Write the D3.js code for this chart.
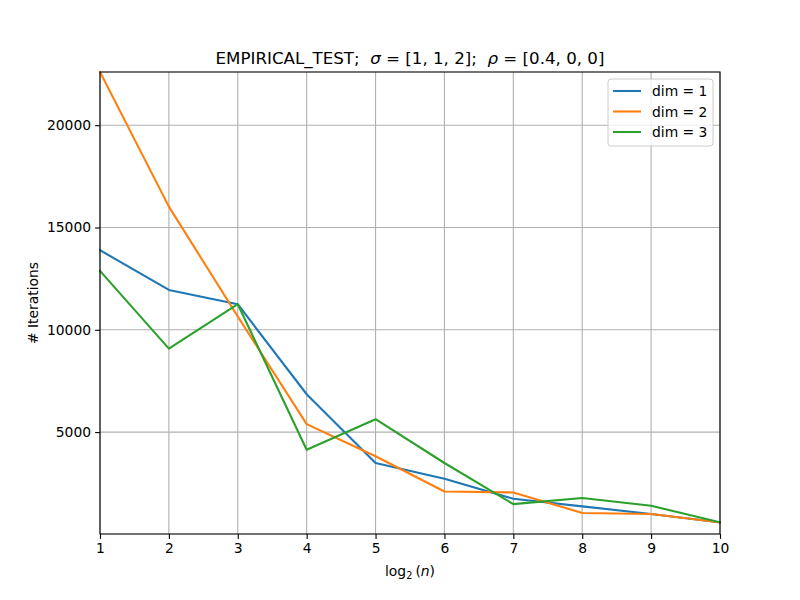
<!DOCTYPE html>
<html>
<head>
<meta charset="utf-8">
<script src="https://cdn.jsdelivr.net/npm/d3@7"></script>
<style>
  body { margin: 0; background: #fff; }
  svg text { font-family: "DejaVu Sans", sans-serif; fill: #000; }
</style>
</head>
<body>
<div id="chart"></div>
<script>
// data
var logN = [1, 2, 3, 4, 5, 6, 7, 8, 9, 10];
var dim1 = [13890, 11950, 11250, 6850, 3490, 2720, 1740, 1370, 1000, 590];
var dim2 = [22600, 16020, 10650, 5390, 3820, 2100, 2050, 1050, 1000, 590];
var dim3 = [12880, 9080, 11250, 4140, 5630, 3490, 1480, 1780, 1400, 590];
var seriesNames = ['dim = 1', 'dim = 2', 'dim = 3'];
var colors = ['#1f77b4', '#ff7f0e', '#2ca02c'];
var yTicks = [5000, 10000, 15000, 20000];

var width = 800, height = 600;
var margin = {top: 72, right: 80, bottom: 66, left: 100};
var plotW = width - margin.left - margin.right,
	plotH = height - margin.top - margin.bottom;
var fs = '13.89px';

var svg = d3.select('#chart').append('svg')
	.attr('width', width)
	.attr('height', height);

var x = d3.scaleLinear().domain([1, 10]).range([0, plotW]);
var y = d3.scaleLinear().domain([20, 22600]).range([plotH, 0]);

var g = svg.append('g')
	.attr('transform', 'translate(' + margin.left + ',' + margin.top + ')');

//grid lines
g.append('g').selectAll('line.vgrid')
	.data(logN)
	.enter().append('line')
	.attr('x1', function (d) { return x(d); })
	.attr('x2', function (d) { return x(d); })
	.attr('y1', 0).attr('y2', plotH)
	.attr('stroke', '#b0b0b0').attr('stroke-width', 1.1);

g.append('g').selectAll('line.hgrid')
	.data(yTicks)
	.enter().append('line')
	.attr('x1', 0).attr('x2', plotW)
	.attr('y1', function (d) { return y(d); })
	.attr('y2', function (d) { return y(d); })
	.attr('stroke', '#b0b0b0').attr('stroke-width', 1.1);

//lines
var line = d3.line()
	.x(function (d, i) { return x(logN[i]); })
	.y(function (d) { return y(d); });

svg.append('defs').append('clipPath').attr('id', 'clip')
	.append('rect').attr('x', -1).attr('y', -1).attr('width', plotW + 2).attr('height', plotH + 2);

[dim1, dim2, dim3].forEach(function (s, i) {
	g.append('path')
		.datum(s)
		.attr('clip-path', 'url(#clip)')
		.attr('fill', 'none')
		.attr('stroke', colors[i])
		.attr('stroke-width', 2.1)
		.attr('stroke-linejoin', 'round')
		.attr('stroke-linecap', 'square')
		.attr('d', line);
});

//axes
var xAxis = g.append('g')
	.attr('transform', 'translate(0,' + plotH + ')')
	.call(d3.axisBottom(x).tickValues(logN).tickSize(4.9).tickPadding(4).tickFormat(d3.format('d')));
var yAxis = g.append('g')
	.call(d3.axisLeft(y).tickValues(yTicks).tickSize(4.9).tickPadding(4).tickFormat(d3.format('d')));

[xAxis, yAxis].forEach(function (a) {
	a.select('.domain').remove();
	a.selectAll('line').attr('stroke', '#000').attr('stroke-width', 1.1);
	a.selectAll('text').attr('font-size', fs).attr('font-family', '"DejaVu Sans", sans-serif').attr('fill', '#000');
});

//frame
g.append('rect')
	.attr('width', plotW).attr('height', plotH)
	.attr('fill', 'none').attr('stroke', '#000').attr('stroke-width', 1.1);

//title
var title = svg.append('text')
	.attr('x', margin.left + plotW / 2)
	.attr('y', 64)
	.attr('text-anchor', 'middle')
	.attr('font-size', '16.67px')
	.attr('xml:space', 'preserve');
title.append('tspan').text('EMPIRICAL_TEST;  ');
title.append('tspan').attr('font-style', 'italic').text('σ');
title.append('tspan').text(' = [1, 1, 2];  ');
title.append('tspan').attr('font-style', 'italic').text('ρ');
title.append('tspan').text(' = [0.4, 0, 0]');

//x label
var xl = svg.append('text')
	.attr('x', margin.left + plotW / 2)
	.attr('y', 576)
	.attr('text-anchor', 'middle')
	.attr('font-size', fs);
xl.append('tspan').text('log');
xl.append('tspan').attr('font-size', '9.8px').attr('dy', 3).text('2');
xl.append('tspan').attr('dy', -3).attr('dx', 3).text('(');
xl.append('tspan').attr('font-style', 'italic').text('n');
xl.append('tspan').text(')');

//y label
svg.append('text')
	.attr('transform', 'translate(38,' + (margin.top + plotH / 2) + ') rotate(-90)')
	.attr('text-anchor', 'middle')
	.attr('font-size', fs)
	.text('# Iterations');

//legend
var legend = svg.append('g').attr('transform', 'translate(608,79)');
legend.append('rect')
	.attr('width', 105).attr('height', 67)
	.attr('rx', 3)
	.attr('fill', 'rgba(255,255,255,0.8)')
	.attr('stroke', '#cccccc').attr('stroke-width', 1);

seriesNames.forEach(function (name, i) {
	var row = legend.append('g').attr('transform', 'translate(0,' + (12 + i * 20.5) + ')');
	row.append('line')
		.attr('x1', 5).attr('x2', 33)
		.attr('stroke', colors[i]).attr('stroke-width', 2.1);
	row.append('text')
		.attr('x', 44).attr('y', 5)
		.attr('font-size', fs)
		.text(name);
});
</script>
</body>
</html>
